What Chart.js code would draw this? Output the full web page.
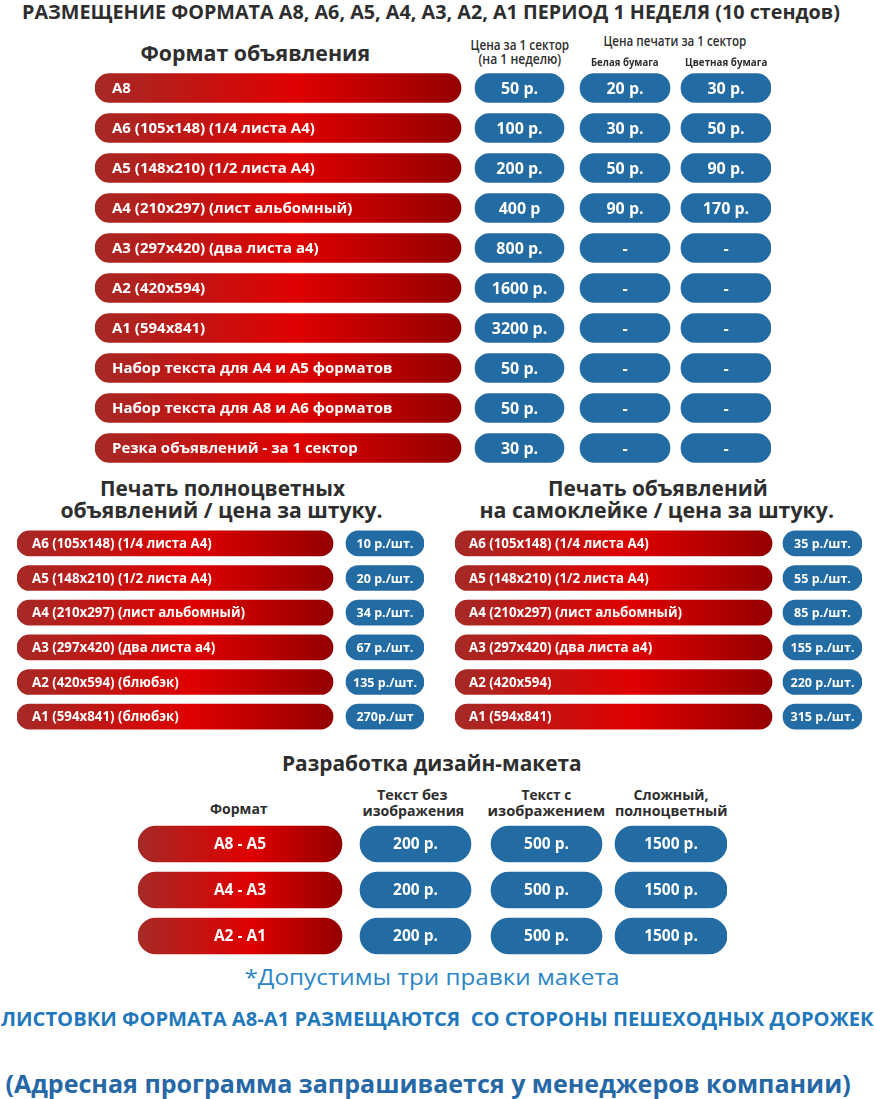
<!DOCTYPE html>
<html lang="ru">
<head>
  <meta charset="UTF-8">
  <title>Размещение форматов — цены</title>
  <script src="https://cdn.jsdelivr.net/npm/chart.js"></script>
  <style>
    body {
      margin: 0;
      background: #ffffff;
      width: 874px;
      height: 1099px;
      position: relative;
      overflow: hidden;
      font-family: 'Open Sans', sans-serif;
    }
    canvas { position: absolute; }
    .t {
      position: absolute;
      white-space: pre;
      line-height: 1;
      color: #2e2e2e;
    }
  </style>
</head>
<body>

  <canvas id="placeChart" width="676" height="400" style="left:95px;top:68px"></canvas>
  <canvas id="fullColorChart" width="407" height="208" style="left:17px;top:526px"></canvas>
  <canvas id="stickerChart" width="407" height="208" style="left:455px;top:526px"></canvas>
  <canvas id="designChart" width="589" height="138" style="left:138px;top:821px"></canvas>

  <script>
    // --- data ---
    const placeFormats = [
      'А8',
      'А6 (105x148) (1/4 листа А4)',
      'А5 (148x210) (1/2 листа А4)',
      'А4 (210x297) (лист альбомный)',
      'А3 (297x420) (два листа а4)',
      'А2 (420x594)',
      'А1 (594x841)',
      'Набор текста для А4 и А5 форматов',
      'Набор текста для А8 и А6 форматов',
      'Резка объявлений - за 1 сектор'
    ];
    const sectorPrice = ['50 р.', '100 р.', '200 р.', '400 р', '800 р.', '1600 р.', '3200 р.', '50 р.', '50 р.', '30 р.'];
    const printWhite = ['20 р.', '30 р.', '50 р.', '90 р.', '-', '-', '-', '-', '-', '-'];
    const printColor = ['30 р.', '50 р.', '90 р.', '170 р.', '-', '-', '-', '-', '-', '-'];

    const fullColorFormats = [
      'А6 (105x148) (1/4 листа А4)',
      'А5 (148x210) (1/2 листа А4)',
      'А4 (210x297) (лист альбомный)',
      'А3 (297x420) (два листа а4)',
      'А2 (420x594) (блюбэк)',
      'А1 (594x841) (блюбэк)'
    ];
    const fullColorPrice = ['10 р./шт.', '20 р./шт.', '34 р./шт.', '67 р./шт.', '135 р./шт.', '270р./шт'];

    const stickerFormats = [
      'А6 (105x148) (1/4 листа А4)',
      'А5 (148x210) (1/2 листа А4)',
      'А4 (210x297) (лист альбомный)',
      'А3 (297x420) (два листа а4)',
      'А2 (420x594)',
      'А1 (594x841)'
    ];
    const stickerPrice = ['35 р./шт.', '55 р./шт.', '85 р./шт.', '155 р./шт.', '220 р./шт.', '315 р./шт.'];

    const designFormats = ['А8 - А5', 'А4 - А3', 'А2 - А1'];
    const designPlain = ['200 р.', '200 р.', '200 р.'];
    const designImage = ['500 р.', '500 р.', '500 р.'];
    const designComplex = ['1500 р.', '1500 р.', '1500 р.'];

    // --- headings (plain text around the tables) ---
    const headings = [
      { text: 'РАЗМЕЩЕНИЕ ФОРМАТА А8, А6, А5, А4, А3, А2, А1 ПЕРИОД 1 НЕДЕЛЯ (10 стендов)', cx: 431, cy: 12, w: 818, size: 20, weight: 700 },
      { text: 'Формат объявления', cx: 255, cy: 52, w: 230, size: 22, weight: 700 },
      { text: 'Цена за 1 сектор', cx: 520, cy: 45, w: 99, size: 14, weight: 600 },
      { text: '(на 1 неделю)', cx: 520, cy: 59, w: 83, size: 14, weight: 600 },
      { text: 'Цена печати за 1 сектор', cx: 675, cy: 41, w: 143, size: 14, weight: 600 },
      { text: 'Белая бумага', cx: 625, cy: 61, w: 68, size: 11, weight: 700 },
      { text: 'Цветная бумага', cx: 726, cy: 61, w: 82, size: 11, weight: 700 },
      { text: 'Печать полноцветных', cx: 222, cy: 487, w: 245, size: 22, weight: 700 },
      { text: 'объявлений / цена за штуку.', cx: 221, cy: 509, w: 322, size: 22, weight: 700 },
      { text: 'Печать объявлений', cx: 658, cy: 487, w: 220, size: 22, weight: 700 },
      { text: 'на самоклейке / цена за штуку.', cx: 657, cy: 509, w: 355, size: 22, weight: 700 },
      { text: 'Разработка дизайн-макета', cx: 432, cy: 763, w: 300, size: 21, weight: 700 },
      { text: 'Формат', cx: 239, cy: 809, w: 58, size: 14, weight: 700 },
      { text: 'Текст без', cx: 412, cy: 795, w: 70, size: 14, weight: 700 },
      { text: 'изображения', cx: 413, cy: 811, w: 102, size: 14, weight: 700 },
      { text: 'Текст с', cx: 546, cy: 795, w: 50, size: 14, weight: 700 },
      { text: 'изображением', cx: 546, cy: 811, w: 118, size: 14, weight: 700 },
      { text: 'Сложный,', cx: 671, cy: 795, w: 75, size: 14, weight: 700 },
      { text: 'полноцветный', cx: 671, cy: 811, w: 112, size: 14, weight: 700 },
      { text: '*Допустимы три правки макета', cx: 432, cy: 976, w: 375, size: 22, weight: 400, color: '#2a86c6' },
      { text: 'ЛИСТОВКИ ФОРМАТА А8-А1 РАЗМЕЩАЮТСЯ  СО СТОРОНЫ ПЕШЕХОДНЫХ ДОРОЖЕК', cx: 437, cy: 1019, w: 872, size: 19, weight: 700, color: '#1f78bc' },
      { text: '(Адресная программа запрашивается у менеджеров компании)', cx: 428, cy: 1083, w: 845, size: 25, weight: 700, color: '#2667a6' }
    ];

    headings.forEach(h => {
      const el = document.createElement('div');
      el.className = 't';
      el.textContent = h.text;
      el.style.fontSize = h.size + 'px';
      el.style.fontWeight = h.weight;
      if (h.color) el.style.color = h.color;
      document.body.appendChild(el);
      const sx = h.w / el.offsetWidth;
      el.style.left = (h.cx - el.offsetWidth / 2) + 'px';
      el.style.top = (h.cy - el.offsetHeight / 2) + 'px';
      el.style.transform = 'scaleX(' + sx + ')';
    });

    // --- pills ---
    const BLUE = '#236ba3';

    function redGradient(chart, span) {
      const sx = chart.scales.x;
      let x0 = sx ? sx.getPixelForValue(span[0]) : NaN;
      let x1 = sx ? sx.getPixelForValue(span[1]) : NaN;
      if (!isFinite(x0) || !isFinite(x1)) {
        // x scale runs 0..canvas width over the whole canvas
        x0 = span[0];
        x1 = span[1];
      }
      const g = chart.ctx.createLinearGradient(x0, 0, x1, 0);
      g.addColorStop(0, '#a52a26');
      g.addColorStop(0.55, '#df0000');
      g.addColorStop(1, '#940000');
      return g;
    }

    const pillText = {
      id: 'pillText',
      afterDatasetsDraw(chart) {
        const ctx = chart.ctx;
        chart.data.datasets.forEach((ds, i) => {
          chart.getDatasetMeta(i).data.forEach((bar, j) => {
            const p = bar.getProps(['x', 'base', 'y'], true);
            const left = Math.min(p.x, p.base);
            const right = Math.max(p.x, p.base);
            ctx.save();
            ctx.fillStyle = '#ffffff';
            ctx.font = ds.textFont;
            ctx.textBaseline = 'middle';
            if (ds.textAlign === 'left') {
              ctx.textAlign = 'left';
              ctx.fillText(ds.texts[j], left + ds.textPad, p.y + 1);
            } else {
              ctx.textAlign = 'center';
              ctx.fillText(ds.texts[j], (left + right) / 2, p.y + 1);
            }
            ctx.restore();
          });
        });
      }
    };

    function makeTable(id, categories, columns, thickness) {
      const canvas = document.getElementById(id);
      return new Chart(canvas, {
        type: 'bar',
        data: {
          labels: categories,
          datasets: columns.map(col => ({
            data: categories.map(() => col.span),
            texts: col.texts,
            textFont: col.font,
            textAlign: col.align || 'center',
            textPad: col.pad || 0,
            backgroundColor: col.red ? (c => redGradient(c.chart, col.span)) : BLUE,
            borderWidth: 0,
            borderSkipped: false,
            borderRadius: thickness / 2,
            barThickness: thickness,
            grouped: false
          }))
        },
        options: {
          indexAxis: 'y',
          responsive: false,
          animation: false,
          events: [],
          layout: { padding: 0 },
          scales: {
            x: { type: 'linear', min: 0, max: canvas.width, display: false },
            y: { display: false }
          },
          plugins: { legend: { display: false }, tooltip: { enabled: false } }
        },
        plugins: [pillText]
      });
    }

    makeTable('placeChart', placeFormats, [
      { span: [0, 366], texts: placeFormats, red: true, align: 'left', pad: 17, font: 'bold 15px "Open Sans"' },
      { span: [380, 469], texts: sectorPrice, font: 'bold 16px "Open Sans"' },
      { span: [485, 575], texts: printWhite, font: 'bold 16px "Open Sans"' },
      { span: [586, 676], texts: printColor, font: 'bold 16px "Open Sans"' }
    ], 29);

    makeTable('fullColorChart', fullColorFormats, [
      { span: [0, 316], texts: fullColorFormats, red: true, align: 'left', pad: 15, font: 'bold 13.3px "Open Sans"' },
      { span: [329, 407], texts: fullColorPrice, font: 'bold 12.5px "Open Sans"' }
    ], 25);

    makeTable('stickerChart', stickerFormats, [
      { span: [0, 317], texts: stickerFormats, red: true, align: 'left', pad: 14, font: 'bold 13.3px "Open Sans"' },
      { span: [328, 407], texts: stickerPrice, font: 'bold 12.5px "Open Sans"' }
    ], 25);

    makeTable('designChart', designFormats, [
      { span: [0, 204], texts: designFormats, red: true, font: 'bold 15.5px "Open Sans"' },
      { span: [222, 333], texts: designPlain, font: 'bold 15.5px "Open Sans"' },
      { span: [353, 464], texts: designImage, font: 'bold 15.5px "Open Sans"' },
      { span: [477, 589], texts: designComplex, font: 'bold 15.5px "Open Sans"' }
    ], 36);
  </script>
</body>
</html>
